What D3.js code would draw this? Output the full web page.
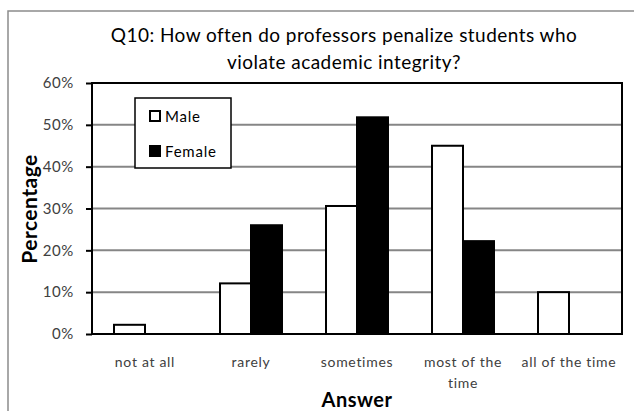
<!DOCTYPE html>
<html>
<head>
<meta charset="utf-8">
<script src="https://cdn.jsdelivr.net/npm/d3@7"></script>
<style>
html,body{margin:0;padding:0;background:#fff;}
svg{display:block;}
text{font-family:Lato,"Open Sans",sans-serif;}
</style>
</head>
<body>
<div id="chart"></div>
<script>
const categories = ["not at all", "rarely", "sometimes", "most of the time", "all of the time"];
const categoryLines = [["not at all"], ["rarely"], ["sometimes"], ["most of the", "time"], ["all of the time"]];
const seriesNames = ["Male", "Female"];
const maleValues = [2.2, 12.1, 30.6, 45.0, 10.0];
const femaleValues = [0, 26.0, 51.8, 22.2, 0];
const yTicks = [0, 10, 20, 30, 40, 50, 60];
const titleLines = ["Q10: How often do professors penalize students who", "violate academic integrity?"];
const xTitle = "Answer";
const yTitle = "Percentage";

const W = 634, H = 411;
const m = {left: 92, top: 83, right: 622, bottom: 334};

const svg = d3.select("#chart").append("svg").attr("width", W).attr("height", H);

// outer frame
svg.append("rect").attr("x", 8).attr("y", 11).attr("width", 640).attr("height", 420)
  .attr("fill", "none").attr("stroke", "#8c8c8c").attr("stroke-width", 1.5);

const x0 = d3.scaleBand().domain(categories).range([m.left, m.right]).paddingInner(0).paddingOuter(0);
const x1 = d3.scaleBand().domain(seriesNames).range([0, x0.bandwidth()]).paddingInner(0).paddingOuter(0.71);
const y = d3.scaleLinear().domain([0, 60]).range([m.bottom, m.top]);

// gridlines
svg.append("g").selectAll("line").data(yTicks.filter(d => d > 0 && d < 60)).join("line")
  .attr("x1", m.left).attr("x2", m.right)
  .attr("y1", d => y(d)).attr("y2", d => y(d))
  .attr("stroke", "#868686").attr("stroke-width", 2);

// bars
const data = categories.map((c, i) => ({c, vals: [{s: "Male", v: maleValues[i]}, {s: "Female", v: femaleValues[i]}]}));
const g = svg.append("g");
g.selectAll("g").data(data).join("g")
  .attr("transform", d => `translate(${x0(d.c)},0)`)
  .selectAll("rect").data(d => d.vals.filter(v => v.v > 0)).join("rect")
  .attr("x", d => x1(d.s)).attr("width", x1.bandwidth())
  .attr("y", d => y(d.v)).attr("height", d => y(0) - y(d.v))
  .attr("fill", d => d.s === "Male" ? "#fff" : "#000")
  .attr("stroke", "#000").attr("stroke-width", 2);

// plot border
svg.append("rect").attr("x", m.left).attr("y", m.top).attr("width", m.right - m.left).attr("height", m.bottom - m.top)
  .attr("fill", "none").attr("stroke", "#000").attr("stroke-width", 2);

// y axis
const yAxis = d3.axisLeft(y).tickValues(yTicks).tickFormat(d => d + "%").tickSize(6).tickPadding(12);
const ya = svg.append("g").attr("transform", `translate(${m.left},0)`).call(yAxis);
ya.select(".domain").remove();
ya.selectAll(".tick line").attr("stroke", "#000").attr("stroke-width", 2);
ya.selectAll(".tick text").attr("fill", "#404040").style("font-size", "15px")
  .style("letter-spacing", "0.6px").style("font-family", "Lato, sans-serif");

// x axis labels
const xa = svg.append("g");
categories.forEach((c, i) => {
  const t = xa.append("text").attr("x", x0(c) + x0.bandwidth() / 2).attr("y", 367)
    .attr("text-anchor", "middle").attr("fill", "#404040")
    .style("font-size", "14px").style("letter-spacing", "0.7px");
  categoryLines[i].forEach((ln, j) => {
    t.append("tspan").attr("x", x0(c) + x0.bandwidth() / 2).attr("dy", j === 0 ? 0 : 21).text(ln);
  });
});

// titles
titleLines.forEach((ln, i) => {
  svg.append("text").attr("x", 344).attr("y", 42 + i * 27).attr("text-anchor", "middle")
    .attr("fill", "#000").style("font-size", "19px").style("letter-spacing", "0.45px").text(ln);
});
svg.append("text").attr("x", 357).attr("y", 407).attr("text-anchor", "middle")
  .style("font-size", "20px").style("font-weight", "bold").style("letter-spacing", "0.5px").text(xTitle);
svg.append("text").attr("transform", "translate(37,209) rotate(-90)").attr("text-anchor", "middle")
  .style("font-size", "21px").style("font-weight", "bold").style("letter-spacing", "0.5px").text(yTitle);

// legend
const lg = svg.append("g");
lg.append("rect").attr("x", 135).attr("y", 98).attr("width", 96).attr("height", 70)
  .attr("fill", "#fff").attr("stroke", "#000").attr("stroke-width", 1.5);
seriesNames.forEach((s, i) => {
  const yy = 111 + i * 35;
  lg.append("rect").attr("x", 150).attr("y", yy).attr("width", 10).attr("height", 10)
    .attr("fill", s === "Male" ? "#fff" : "#000").attr("stroke", "#000").attr("stroke-width", 2);
  lg.append("text").attr("x", 165).attr("y", yy + 10.5).attr("fill", "#000")
    .style("font-size", "15px").style("letter-spacing", "0.8px").text(s);
});
</script>
</body>
</html>
